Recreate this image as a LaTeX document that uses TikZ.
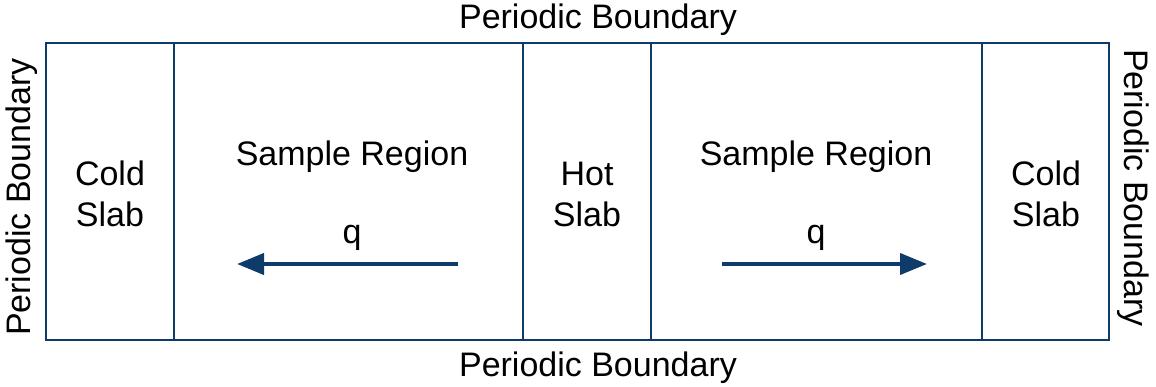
\documentclass[tikz,border=0pt]{standalone}
\usepackage{fontspec}
\setmainfont{Liberation Sans}
\usetikzlibrary{arrows.meta}
\definecolor{navy}{HTML}{0F3B6B}
\begin{document}
\begin{tikzpicture}[x=1pt,y=-1pt,
  box/.style={draw=navy,line width=2.5pt},
  lbl/.style={font=\fontsize{34}{41}\selectfont,align=center,inner sep=0pt},
  flow/.style={draw=navy,line width=4pt,-{Triangle[length=27pt,width=21pt]}}]
\useasboundingbox (0,0) rectangle (1156,387);
\draw[box] (46,43) rectangle (1109,340);
\draw[box] (174,43) -- (174,340);
\draw[box] (523,43) -- (523,340);
\draw[box] (651,43) -- (651,340);
\draw[box] (982,43) -- (982,340);
\node[lbl] (top) at (598,20) {Periodic Boundary};
\node[lbl] (bot) at (598,368) {Periodic Boundary};
\node[lbl,rotate=90] (left) at (22,197) {Periodic Boundary};
\node[lbl,rotate=-90] (right) at (1133,188) {Periodic Boundary};
\node[lbl] (cold1) at (110,194) {Cold\\Slab};
\node[lbl] (samp1) at (352,157) {Sample Region};
\node[lbl] (hot) at (587,194) {Hot\\Slab};
\node[lbl] (samp2) at (816,157) {Sample Region};
\node[lbl] (cold2) at (1046,194) {Cold\\Slab};
\node[lbl] (q1) at (352,238) {q};
\node[lbl] (q2) at (816,238) {q};
\coordinate (a1s) at (458,264);
\coordinate (a1e) at (237,264);
\coordinate (a2s) at (722,264);
\coordinate (a2e) at (927,264);
\draw[flow] (a1s) -- (a1e);
\draw[flow] (a2s) -- (a2e);
\end{tikzpicture}
\end{document}
